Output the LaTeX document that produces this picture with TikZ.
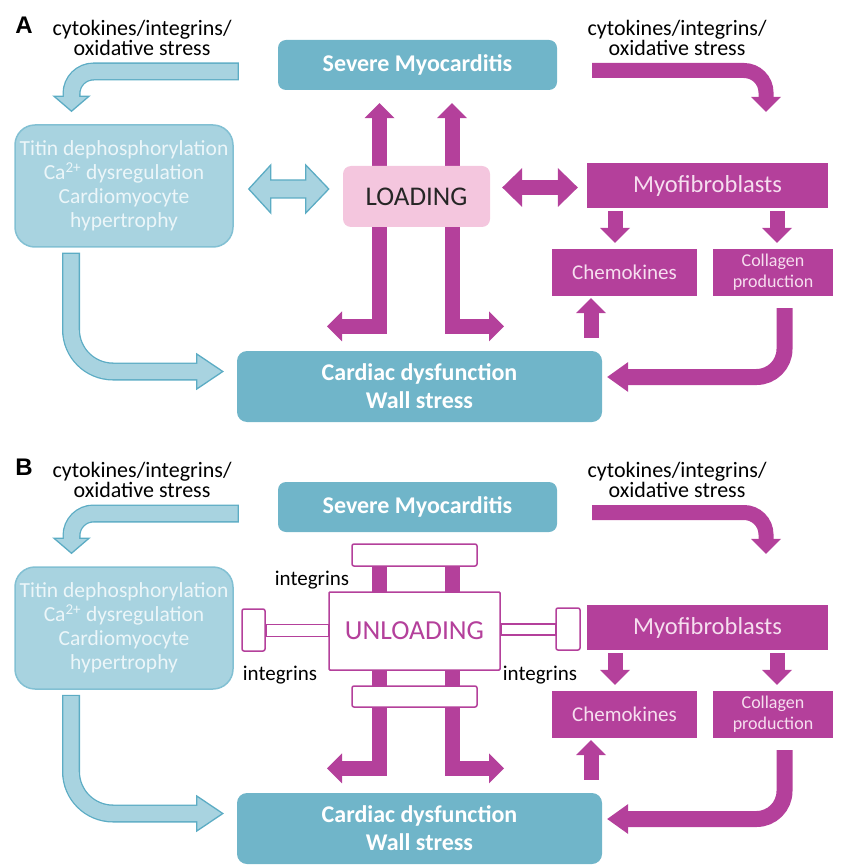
\documentclass[tikz,border=0pt]{standalone}
\usepackage{fontspec}
\setmainfont{Carlito}
\newfontfamily\letterfont{Liberation Sans}
\usepackage{tikz}
\usetikzlibrary{arrows.meta,positioning,backgrounds,calc}

\definecolor{sevcol}{RGB}{112,181,201}
\definecolor{titcol}{RGB}{168,211,224}
\definecolor{titedge}{RGB}{130,192,211}
\definecolor{arredge}{RGB}{92,172,196}
\definecolor{titext}{RGB}{236,246,249}
\definecolor{fibcol}{RGB}{180,64,155}
\definecolor{fibtext}{RGB}{246,222,239}
\definecolor{loadcol}{RGB}{244,198,222}

\tikzset{
  mtip/.tip={Triangle[width=30pt,length=15pt,line width=0pt]},
  mdtip/.tip={Triangle[width=39pt,length=20pt,line width=0pt]},
  ctip/.tip={Triangle[width=30pt,length=21pt,line width=0pt]}
}

\begin{document}
\begin{tikzpicture}
[x=1pt, y=-1pt,
% STYLES
% teal boxes (Severe Myocarditis, Cardiac dysfunction)
sevbox/.style={rectangle, rounded corners=8pt, fill=sevcol, text=white, align=center, inner sep=0pt, font=\bfseries\fontsize{24}{28}\selectfont},
% light blue box of the cardiomyocyte
titbox/.style={rectangle, rounded corners=20pt, fill=titcol, draw=titedge, line width=1.5pt, minimum width=218pt, minimum height=122pt, text=titext, align=center, inner sep=0pt, font=\fontsize{21.5}{24}\selectfont},
% magenta boxes
fibbox/.style={rectangle, fill=fibcol, text=fibtext, align=center, inner sep=0pt, font=\fontsize{21}{24}\selectfont},
loadbox/.style={rectangle, rounded corners=8pt, fill=loadcol, text=black!85, inner sep=0pt, font=\fontsize{27}{30}\selectfont},
unlbox/.style={rectangle, rounded corners=1pt, draw=fibcol, line width=1.5pt, fill=white, text=fibcol, inner sep=0pt, font=\fontsize{27.5}{30}\selectfont},
ibar/.style={rectangle, rounded corners=2pt, draw=fibcol, line width=1.5pt, fill=white, inner sep=0pt},
cyto/.style={align=center, inner sep=0pt, font=\fontsize{22}{20}\selectfont},
panel/.style={inner sep=0pt, font=\letterfont\bfseries\fontsize{24}{24}\selectfont},
% arrows
mshaft/.style={draw=fibcol, line width=15pt},
bout/.style={draw=arredge, line width=18pt},
bin/.style={draw=titcol, line width=15.4pt},
bhead/.style={draw=arredge, fill=titcol, line width=1.3pt, line join=miter},
bblock/.style={draw=arredge, fill=titcol, line width=1.3pt}]

\useasboundingbox (0,0) rectangle (841,866);

% what both panels share
\foreach \p/\dy in {A/0,B/442}{
\begin{scope}[shift={(0,\dy)}]
\node[panel] (\p-lab) at (24,25) {\p};
\node[cyto] (\p-cl) at (142,38) {cytokines/integrins/\\oxidative stress};
\node[cyto] (\p-cr) at (677,38) {cytokines/integrins/\\oxidative stress};

% boxes
\node[sevbox, minimum width=279pt, minimum height=50pt] (\p-sev) at (417.5,65) {Severe Myocarditis};
\node[titbox] (\p-tit) at (124,186) {Titin dephosphorylation\\Ca\textsuperscript{2+} dysregulation\\Cardiomyocyte\\hypertrophy};
\node[sevbox, rounded corners=10pt, minimum width=365pt, minimum height=71pt] (\p-card) at (419.5,386.5) {Cardiac dysfunction\\Wall stress};
\node[fibbox, minimum width=241pt, minimum height=45pt, font=\fontsize{24.5}{26}\selectfont] (\p-myo) at (707.5,185.5) {Myofibroblasts};
\node[fibbox, minimum width=145pt, minimum height=47pt] (\p-chem) at (624.5,272.5) {Chemokines};
\node[fibbox, minimum width=120pt, minimum height=47pt, font=\fontsize{18}{21}\selectfont] (\p-col) at (773,272.5) {Collagen\\production};
\coordinate (\p-mid) at (416,196);

% blue arrows, outline in three passes
\coordinate (\p-tl0) at ($(\p-sev.west)+(-39,6.5)$);
\coordinate (\p-tl1) at ($(\p-tit.north)+(-52.5,-28)$);
\coordinate (\p-tl2) at ($(\p-tit.north)+(-52.5,-13)$);
\draw[bout, rounded corners=22pt] (\p-tl0) -| (\p-tl1);
\draw[bhead] ($(\p-tl1)+(-17.5,0)$) -- (\p-tl2) -- ($(\p-tl1)+(17.5,0)$) -- cycle;
\draw[bin, rounded corners=22pt] ($(\p-tl0)+(-1.3,0)$) -| ($(\p-tl1)+(0,1)$);

\coordinate (\p-bl0) at ($(\p-tit.south)+(-53,5)$);
\coordinate (\p-bl1) at ($(\p-card.west)+(-40,-15)$);
\coordinate (\p-bl2) at ($(\p-card.west)+(-14,-15)$);
\draw[bout, rounded corners=42pt] (\p-bl0) |- (\p-bl1);
\draw[bhead] ($(\p-bl1)+(0,-17.5)$) -- (\p-bl2) -- ($(\p-bl1)+(0,17.5)$) -- cycle;
\draw[bin, rounded corners=42pt] ($(\p-bl0)+(0,1.3)$) |- ($(\p-bl1)+(1,0)$);

% magenta arrows
\draw[mshaft, -mtip, rounded corners=22pt] ($(\p-sev.east)+(35,5.5)$) -| ($(\p-myo.north)+(58.5,-51)$);
\draw[mshaft, -mtip] ($(\p-myo.south)+(-92.5,3)$) -- ($(\p-chem.north)+(-9.5,-6)$);
\draw[mshaft, -mtip] ($(\p-myo.south)+(69.5,3)$) -- ($(\p-col.north)+(4,-6)$);
\draw[mshaft, -mtip] ($(\p-card.north)+(171.5,-13)$) -- ($(\p-chem.south)+(-33.5,2)$);
\draw[mshaft, line width=16pt, -ctip, rounded corners=28pt] ($(\p-col.south)+(11.5,12)$) |- ($(\p-card.east)+(5,-9.5)$);
\begin{scope}[on background layer]
\draw[mshaft, -mtip] ($(\p-mid)+(-36.5,0)$) |- ($(\p-card.north)+(-92.5,-24.5)$);
\draw[mshaft, -mtip] ($(\p-mid)+(36,0)$) |- ($(\p-card.north)+(84.5,-24.5)$);
\end{scope}
\end{scope}
}

% panel A: loading
\node[loadbox, minimum width=147pt, minimum height=61pt] (A-load) at (416.5,196.5) {LOADING};
\begin{scope}[on background layer]
\draw[mshaft, -mtip] ($(A-load.center)+(-37,0)$) -- ($(A-sev.south)+(-38,13)$);
\draw[mshaft, -mtip] ($(A-load.center)+(35.5,0)$) -- ($(A-sev.south)+(34.5,13)$);
\end{scope}
\draw[bblock] ($(A-tit.east)+(15,3)$) -- ++(22,-24) -- ++(0,15) -- ++(35,0) -- ++(0,-15) -- ++(23,24) -- ++(-23,24) -- ++(0,-15) -- ++(-35,0) -- ++(0,15) -- cycle;
\draw[mshaft, mdtip-mdtip] ($(A-load.east)+(12,-9)$) -- ($(A-myo.west)+(-9,2)$);

% panel B: unloading
\begin{scope}[shift={(0,442)}]
\node[unlbox, minimum width=171pt, minimum height=78pt] (B-unl) at (414.5,189) {UNLOADING};
\node[ibar, minimum width=125pt, minimum height=22pt] (B-top) at (414.5,113) {};
\node[ibar, minimum width=125pt, minimum height=21pt] (B-bot) at (414.5,254.5) {};
\node[ibar, minimum width=23pt, minimum height=42pt] (B-pl) at (253.5,188) {};
\node[ibar, minimum width=24pt, minimum height=42pt] (B-pr) at (568,187) {};
\draw[draw=fibcol, fill=white, line width=1.5pt] ($(B-pl.east)+(0,-5.5)$) rectangle ($(B-unl.west)+(0,5.5)$);
\draw[draw=fibcol, fill=white, line width=1.5pt] ($(B-unl.east)+(0,-7)$) rectangle ($(B-pr.west)+(0,6)$);
\node[cyto, font=\fontsize{21}{20}\selectfont] (B-i1) at (312,138) {integrins};
\node[cyto, font=\fontsize{21}{20}\selectfont] (B-i2) at (280,233) {integrins};
\node[cyto, font=\fontsize{21}{20}\selectfont] (B-i3) at (540,233) {integrins};
\begin{scope}[on background layer]
\draw[mshaft] ($(B-top.center)+(-35,0)$) -- ($(B-unl.center)+(-35,0)$);
\draw[mshaft] ($(B-top.center)+(37.5,0)$) -- ($(B-unl.center)+(37.5,0)$);
\end{scope}
\end{scope}

\end{tikzpicture}
\end{document}
